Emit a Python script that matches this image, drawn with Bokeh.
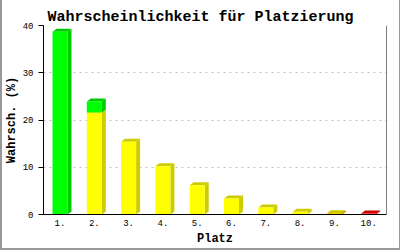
from bokeh.plotting import figure
from bokeh.models import Span, FixedTicker, Range1d, InlineStyleSheet
from bokeh.embed import file_html
from bokeh.resources import INLINE

places = [1, 2, 3, 4, 5, 6, 7, 8, 9, 10]
tick_labels = ["1.", "2.", "3.", "4.", "5.", "6.", "7.", "8.", "9.", "10."]
# stacked bottom -> top: red, yellow, green
red = [0, 0, 0, 0, 0, 0, 0, 0, 0.1, 0.2]
yellow = [0, 21.6, 15.4, 10.2, 6.2, 3.4, 1.5, 0.6, 0.15, 0]
green = [38.7, 2.3, 0, 0, 0, 0, 0, 0, 0, 0]
y_ticks = [0, 10, 20, 30, 40]

series = [(red, "#FF0000", "#CC0000"), (yellow, "#FFFF00", "#CCCC00"), (green, "#00FF00", "#00CC00")]

W, H = 400, 250
FL, FR, FT, FB = 43, 386, 25, 214
x0, x1 = 0.519, 10.519
y0, y1 = 0, 40
mono = "Liberation Mono"

p = figure(width=W, height=H, output_backend="svg", toolbar_location=None,
           x_range=Range1d(x0, x1), y_range=Range1d(y0, y1),
           min_border_left=FL, min_border_right=W - FR, min_border_top=FT, min_border_bottom=H - FB,
           title="Wahrscheinlichkeit für Platzierung")
p.outline_line_color = None
p.background_fill_color = "white"
p.border_fill_color = None
p.stylesheets = [InlineStyleSheet(css=":host { background-color: white; box-shadow: inset 2px 0 0 #999999, inset -1px 0 0 #999999, inset 0 -2px 0 #999999; }")]

p.title.text_font = mono
p.title.text_font_size = "15px"
p.title.text_font_style = "bold"
p.title.text_color = "black"
p.title.align = "left"
p.title.offset = 4
p.title.standoff = 0

xpx = (x1 - x0) / (FR - FL)   # data units per px
ypx = (y1 - y0) / (FB - FT)

half = 7.5 * xpx
dx = 4 * xpx
dy = 3 * ypx

xs, ys, cs = [], [], []
for i, pl in enumerate(places):
    base = 0.0
    for vals, front, dark in series:
        v = vals[i]
        if v <= 0:
            continue
        top = base + v
        l, r = pl - half, pl + half
        xs.append([r, r + dx, r + dx, r]); ys.append([base, base + dy, top + dy, top]); cs.append(dark)
        xs.append([l, r, r + dx, l + dx]); ys.append([top, top, top + dy, top + dy]); cs.append(dark)
        xs.append([l, r, r, l]); ys.append([base, base, top, top]); cs.append(front)
        base = top

p.patches(xs, ys, fill_color=cs, line_color=None)

p.xgrid.visible = False
p.ygrid.ticker = FixedTicker(ticks=y_ticks)
p.ygrid.grid_line_color = "#C0C0C0"
p.ygrid.grid_line_dash = "2 4"

ya = p.yaxis[0]
ya.ticker = FixedTicker(ticks=y_ticks)
ya.minor_tick_line_color = None
ya.major_tick_in = 0
ya.major_tick_out = 5
ya.major_label_standoff = 5
ya.major_label_text_font = mono
ya.major_label_text_font_size = "9px"
ya.major_label_text_color = "black"
ya.axis_line_color = "black"
ya.major_tick_line_color = "black"
ya.axis_label = "Wahrsch. (%)"
ya.axis_label_text_font = mono
ya.axis_label_text_font_size = "12px"
ya.axis_label_text_font_style = "bold"
ya.axis_label_text_color = "black"
ya.axis_label_standoff = 1

xa = p.xaxis[0]
xa.ticker = FixedTicker(ticks=places)
xa.major_label_overrides = {pl: lab for pl, lab in zip(places, tick_labels)}
xa.minor_tick_line_color = None
xa.major_tick_line_color = None
xa.major_tick_in = 0
xa.major_tick_out = 0
xa.axis_line_color = "black"
xa.major_label_standoff = 5
xa.major_label_text_font = mono
xa.major_label_text_font_size = "9px"
xa.major_label_text_color = "black"
xa.axis_label = "Platz"
xa.axis_label_text_font = mono
xa.axis_label_text_font_size = "12px"
xa.axis_label_text_font_style = "bold"
xa.axis_label_text_color = "black"
xa.axis_label_standoff = 3

p.add_layout(Span(location=x1, dimension="height", line_color="black", line_width=1))

open("out.html", "w").write(file_html(p, INLINE))
